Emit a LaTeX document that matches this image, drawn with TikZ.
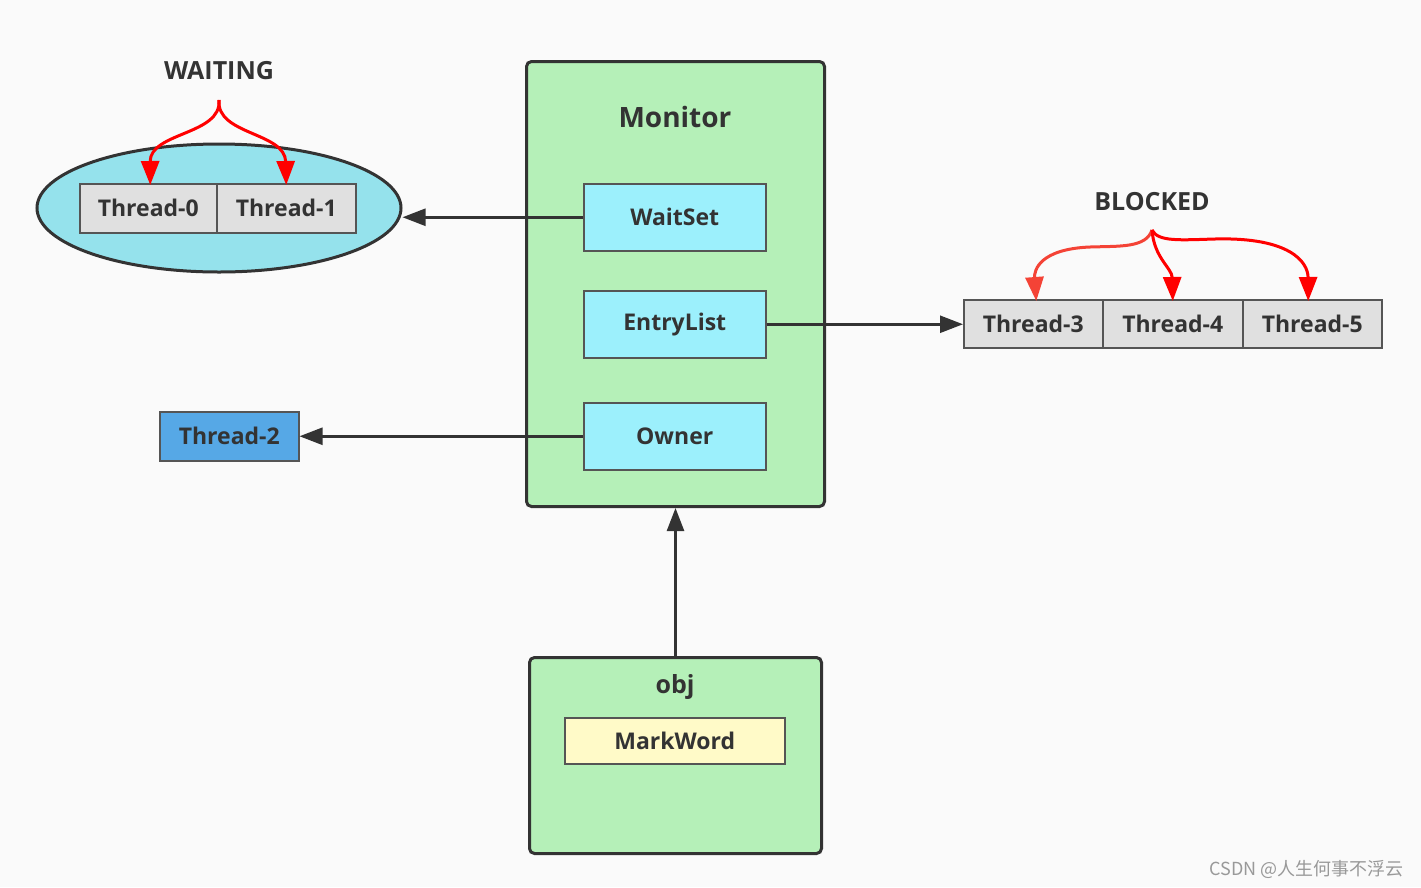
\documentclass[tikz,border=0pt]{standalone}
\usepackage{fontspec}
\setmainfont{Open Sans}
\newfontfamily\cjkfont{Noto Sans CJK SC}
\usetikzlibrary{arrows.meta,shapes.geometric,calc}
\definecolor{bg}{HTML}{FAFAFA}
\definecolor{ink}{HTML}{333333}
\definecolor{edge}{HTML}{555555}
\definecolor{mongreen}{HTML}{B5F0B8}
\definecolor{cyanbox}{HTML}{9CF0FC}
\definecolor{ellfill}{HTML}{95E2EC}
\definecolor{thgray}{HTML}{E0E0E0}
\definecolor{thblue}{HTML}{56A8E6}
\definecolor{mwyellow}{HTML}{FFFAC8}
\definecolor{arrred}{HTML}{FF0000}
\definecolor{arrred2}{HTML}{F44336}
\tikzset{
  box/.style={draw=edge, line width=1.5pt, inner sep=0pt, anchor=north west, font=\bfseries\fontsize{23}{26}\selectfont, text=ink},
  big/.style={draw=ink, line width=3pt, rounded corners=5pt, fill=mongreen, inner sep=0pt, anchor=north west},
  lbl/.style={font=\bfseries\fontsize{25}{28}\selectfont, text=ink},
  darr/.style={draw=ink, line width=2.5pt, -{Triangle[length=23pt,width=17pt]}},
  rarr/.style={draw=arrred, line width=3pt, -{Triangle[length=24pt,width=18pt]}},
}
\begin{document}
\begin{tikzpicture}[x=1pt,y=-1pt]
\fill[bg] (0,0) rectangle (1421,887);
\useasboundingbox (0,0) rectangle (1421,887);

% WAITING group
\node[lbl] (waiting) at (219,71) {WAITING};
\node[draw=ink, line width=3pt, fill=ellfill, ellipse, minimum width=364pt, minimum height=128pt, inner sep=0pt] (ell) at (219,208) {};
\node[box, fill=thgray, minimum width=137pt, minimum height=49pt] (t0) at (79,183) {Thread-0};
\node[box, fill=thgray, minimum width=139pt, minimum height=49pt] (t1) at (216,183) {Thread-1};
\coordinate (ws) at (219,100);
\draw[rarr] (ws) .. controls (222,135) and (150,132) .. ($(t0.north)+(2,2)$);
\draw[rarr] (ws) .. controls (216,135) and (285,132) .. ($(t1.north)+(0,2)$);

% Monitor
\node[big, minimum width=298pt, minimum height=445pt] (mon) at (525,60) {};
\node[font=\bfseries\fontsize{28}{32}\selectfont, text=ink] (montitle) at (675,117) {Monitor};
\node[box, fill=cyanbox, minimum width=182pt, minimum height=67pt] (waitset) at (583,183) {WaitSet};
\node[box, fill=cyanbox, minimum width=182pt, minimum height=67pt] (entry) at (583,290) {EntryList};
\node[box, fill=cyanbox, minimum width=182pt, minimum height=67pt] (owner) at (583,402) {Owner};

% Thread-2
\node[box, fill=thblue, minimum width=139pt, minimum height=49pt] (t2) at (159,411) {Thread-2};

% BLOCKED group
\node[lbl] (blocked) at (1152,202) {BLOCKED};
\node[box, fill=thgray, minimum width=139pt, minimum height=48pt] (t3) at (963,299) {Thread-3};
\node[box, fill=thgray, minimum width=140pt, minimum height=48pt] (t4) at (1102,299) {Thread-4};
\node[box, fill=thgray, minimum width=139pt, minimum height=48pt] (t5) at (1242,299) {Thread-5};
\coordinate (bs) at (1152,230);
\draw[rarr, draw=arrred2] (bs) .. controls (1146,248) and (1120,246) .. (1090,247) .. controls (1040,249) and (1034,270) .. ($(t3.north)+(3,2)$);
\draw[rarr] (bs) .. controls (1154,258) and (1172,268) .. ($(t4.north)+(0,2)$);
\draw[rarr] (bs) .. controls (1158,242) and (1180,240) .. (1215,239) .. controls (1290,237) and (1308,262) .. ($(t5.north)+(-4,2)$);

% obj
\node[big, minimum width=292pt, minimum height=196pt] (obj) at (528,656) {};
\node[lbl] (objtitle) at (675,687) {obj};
\node[box, fill=mwyellow, minimum width=220pt, minimum height=46pt] (mw) at (564,717) {MarkWord};

% connectors
\draw[darr] (waitset.west) -- (ell.east |- waitset.west);
\draw[darr] (entry.east) -- (t3.west |- entry.east);
\draw[darr] (owner.west) -- (t2.east |- owner.west);
\draw[darr] (obj.north) -- (mon.south);

% watermark
\node[font=\cjkfont\fontsize{18}{20}\selectfont, text=black!40, anchor=east] (wm) at (1407,869) {CSDN @人生何事不浮云};
\end{tikzpicture}
\end{document}
